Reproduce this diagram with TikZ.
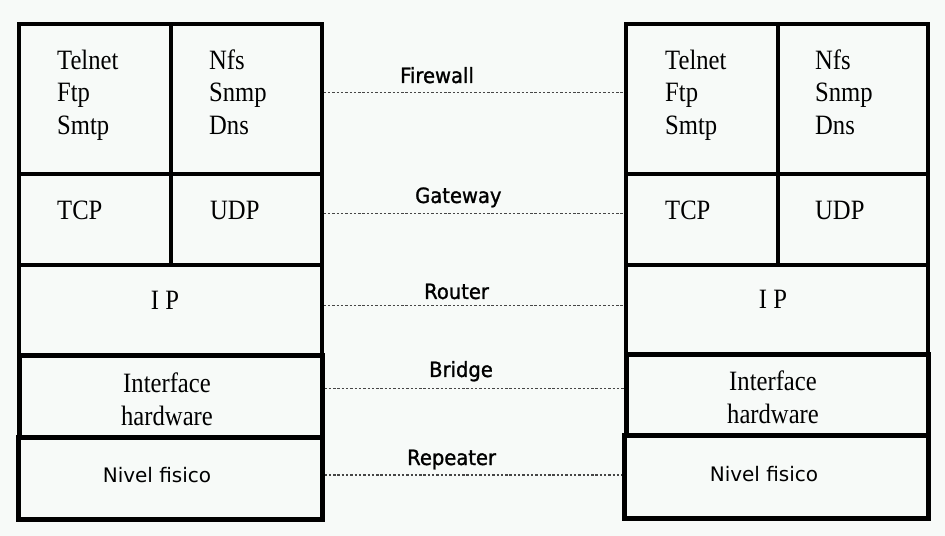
\documentclass[tikz,border=0pt]{standalone}
\usepackage{fontspec}
\setmainfont{Liberation Serif}
\newfontfamily\serfont[FakeStretch=0.88]{Liberation Serif}
\newfontfamily\lblfont[FakeStretch=0.93,FakeBold=1.2]{DejaVu Sans}
\newfontfamily\nffont{DejaVu Sans}
\usetikzlibrary{fit}
\definecolor{bgc}{RGB}{247,250,248}
\definecolor{dotc}{RGB}{70,70,70}
\begin{document}
\begin{tikzpicture}[x=1bp,y=-1bp,
  cell/.style={draw, line width=3.5bp, inner sep=0pt},
  thickcell/.style={draw, line width=5bp, inner sep=0pt},
  ser/.style={font=\serfont\fontsize{28bp}{30bp}\selectfont, anchor=base west, inner sep=0pt},
  serc/.style={font=\serfont\fontsize{28bp}{30bp}\selectfont, anchor=base, inner sep=0pt},
  lbl/.style={font=\lblfont\fontsize{21bp}{24bp}\selectfont, anchor=base west, inner sep=0pt},
  nf/.style={font=\nffont\fontsize{20bp}{24bp}\selectfont, anchor=base, inner sep=0pt},
  link/.style={draw=dotc, line width=1.4bp, dash pattern=on 2.4bp off 1.9bp}]
\fill[bgc] (0,0) rectangle (945,536);
\useasboundingbox (0,0) rectangle (945,536);
% left stack
\node[cell, fit={(19,24) (171,174)}] (ltel) {};
\node[cell, fit={(171,24) (322,174)}] (lnfs) {};
\node[cell, fit={(19,174) (171,265)}] (ltcp) {};
\node[cell, fit={(171,174) (322,265)}] (ludp) {};
\node[cell, fit={(19,265) (322,355)}] (lip) {};
\node[thickcell, fit={(19,355) (322,437)}] (lif) {};
\node[thickcell, fit={(18,437) (322,519)}] (lnf) {};
% right stack
\node[cell, fit={(626,24) (778,174)}] (rtel) {};
\node[cell, fit={(778,24) (928,174)}] (rnfs) {};
\node[cell, fit={(626,174) (778,265)}] (rtcp) {};
\node[cell, fit={(778,174) (928,265)}] (rudp) {};
\node[cell, fit={(626,265) (928,354)}] (rip) {};
\node[thickcell, fit={(626,354) (928,435)}] (rif) {};
\node[thickcell, fit={(624,435) (928,518)}] (rnf) {};
% left texts
\node[ser] (lt1) at (57,70) {Telnet};
\node[ser] (lt2) at (57,102) {Ftp};
\node[ser] (lt3) at (57,135) {Smtp};
\node[ser] (ln1) at (209,70) {Nfs};
\node[ser] (ln2) at (209,102) {Snmp};
\node[ser] (ln3) at (209,135) {Dns};
\node[ser] (ltcpt) at (57,220) {TCP};
\node[ser] (ludpt) at (210,220) {UDP};
\node[serc] (lipt) at (165,310) {I P};
\node[serc] (lif1) at (167,392) {Interface};
\node[serc] (lif2) at (167,425) {hardware};
\node[nf] (lnft) at (157,482) {Nivel fisico};
% right texts
\node[ser] (rt1) at (665,70) {Telnet};
\node[ser] (rt2) at (665,102) {Ftp};
\node[ser] (rt3) at (665,135) {Smtp};
\node[ser] (rn1) at (815,70) {Nfs};
\node[ser] (rn2) at (815,102) {Snmp};
\node[ser] (rn3) at (815,135) {Dns};
\node[ser] (rtcpt) at (665,220) {TCP};
\node[ser] (rudpt) at (815,220) {UDP};
\node[serc] (ript) at (773,309) {I P};
\node[serc] (rif1) at (773,390) {Interface};
\node[serc] (rif2) at (773,423) {hardware};
\node[nf] (rnft) at (764,481) {Nivel fisico};
% connectors
\coordinate (y1) at (0,92.7);
\coordinate (y2) at (0,213.3);
\coordinate (y3) at (0,305.7);
\coordinate (y4) at (0,388.3);
\coordinate (y5) at (0,475);
\draw[link] (lnfs.east |- y1) -- (rtel.west |- y1);
\draw[link] (ludp.east |- y2) -- (rtcp.west |- y2);
\draw[link] (lip.east |- y3) -- (rip.west |- y3);
\draw[link] (lif.east |- y4) -- (rif.west |- y4);
\draw[link] (lnf.east |- y5) -- (rnf.west |- y5);
% labels
\node[lbl] (fw) at (400,83) {Firewall};
\node[lbl] (gw) at (415,203) {Gateway};
\node[lbl] (rt) at (424,299) {Router};
\node[lbl] (br) at (429,377) {Bridge};
\node[lbl] (rp) at (407,465) {Repeater};
\end{tikzpicture}
\end{document}
